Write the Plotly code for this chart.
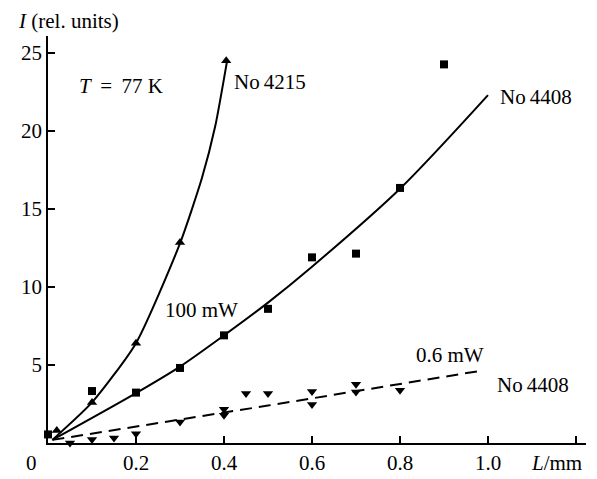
import plotly.graph_objects as go

# --- data ---
# No 4215 (100 mW), triangles
tri_x = [0.02, 0.1, 0.2, 0.3, 0.405]
tri_y = [0.8, 2.6, 6.4, 12.85, 24.5]
# fitted curve for No 4215
c4215_x = [0.01, 0.1, 0.2, 0.3, 0.35, 0.38, 0.407]
c4215_y = [0.2, 2.6, 6.4, 12.8, 17.0, 20.3, 24.5]

# No 4408 (100 mW), squares
sq_x = [0.0, 0.1, 0.2, 0.3, 0.4, 0.5, 0.6, 0.7, 0.8, 0.9]
sq_y = [0.55, 3.33, 3.23, 4.81, 6.9, 8.6, 11.9, 12.14, 16.35, 24.27]
# fitted curve for No 4408
c4408_x = [0.01, 0.2, 0.3, 0.4, 0.5, 0.6, 0.8, 1.0]
c4408_y = [0.2, 3.2, 4.9, 6.9, 9.0, 11.3, 16.3, 22.3]

# No 4408 (0.6 mW), inverted triangles
inv_x = [0.05, 0.1, 0.15, 0.2, 0.3, 0.4, 0.4, 0.45, 0.5, 0.6, 0.6, 0.7, 0.7, 0.8]
inv_y = [0.0, 0.22, 0.32, 0.6, 1.35, 2.16, 1.78, 3.17, 3.17, 3.3, 2.46, 3.76, 3.27, 3.38]
# dashed fit line
dash_x = [0.01, 0.5, 0.99]
dash_y = [0.2, 2.4, 4.66]

x_tickvals = [0, 0.2, 0.4, 0.6, 0.8, 1.0, 1.2]
x_ticktext = ["", "0.2", "0.4", "0.6", "0.8", "1.0", ""]
y_tickvals = [5, 10, 15, 20, 25]
y_ticktext = ["5", "10", "15", "20", "25"]

FONT = "Liberation Serif"
FS = 21

OFF = 8  # page body margin offset
L, R, T, B = 48 - OFF, 11, 36 - OFF, 36
W, H = 597 - OFF, 479 - OFF
PW, PH = W - L - R, H - T - B

fig = go.Figure()

fig.add_trace(go.Scatter(x=c4215_x, y=c4215_y, mode="lines",
                         line=dict(color="black", width=2, shape="spline", smoothing=0.6),
                         hoverinfo="skip"))
fig.add_trace(go.Scatter(x=c4408_x, y=c4408_y, mode="lines",
                         line=dict(color="black", width=2, shape="spline", smoothing=0.8),
                         hoverinfo="skip"))
fig.add_trace(go.Scatter(x=dash_x, y=dash_y, mode="lines",
                         line=dict(color="black", width=2, dash="12px,7px"),
                         hoverinfo="skip"))
fig.add_trace(go.Scatter(x=tri_x, y=tri_y, mode="markers",
                         marker=dict(symbol="triangle-up", size=9, color="black"),
                         cliponaxis=False))
fig.add_trace(go.Scatter(x=sq_x, y=sq_y, mode="markers",
                         marker=dict(symbol="square", size=8, color="black"),
                         cliponaxis=False))
fig.add_trace(go.Scatter(x=inv_x, y=inv_y, mode="markers",
                         marker=dict(symbol="triangle-down", size=9, color="black"),
                         cliponaxis=False))


def px_x(p):
    return (p - OFF - L) / PW


def px_y(p):
    return (H - B - (p - OFF)) / PH


ann = [
    dict(text="<i>I</i> (rel. units)", x=px_x(16.7), y=px_y(OFF), xanchor="left",
         yanchor="top", borderpad=0),
    dict(text="<i>T</i>\u2009 = \u200977 K", x=px_x(77), y=px_y(86), xanchor="left"),
    dict(text="No\u20094215", x=px_x(232), y=px_y(82), xanchor="left"),
    dict(text="No\u20094408", x=px_x(497.7), y=px_y(96.7), xanchor="left"),
    dict(text="100 mW", x=px_x(163), y=px_y(310), xanchor="left"),
    dict(text="0.6 mW", x=px_x(414), y=px_y(355), xanchor="left"),
    dict(text="No\u20094408", x=px_x(495), y=px_y(385), xanchor="left"),
    dict(text="<i>L</i>/mm", x=px_x(529), y=px_y(462.7), xanchor="left"),
    dict(text="0", x=px_x(31.7), y=px_y(462.7), xanchor="center"),
]
for a in ann:
    a.setdefault("yanchor", "middle")
    a.update(showarrow=False, xref="paper", yref="paper",
             font=dict(family=FONT, size=FS, color="black"))

fig.update_layout(
    template="none",
    width=W, height=H,
    margin=dict(l=L, r=R, t=T, b=B, pad=0),
    paper_bgcolor="white", plot_bgcolor="white",
    showlegend=False,
    font=dict(family=FONT, size=FS, color="black"),
    annotations=ann,
    xaxis=dict(range=[0, PW / 440], showgrid=False, zeroline=False, automargin=False,
               showline=True, linecolor="black", linewidth=1.5,
               ticks="inside", ticklen=7, tickwidth=1.5, tickcolor="black",
               tickvals=x_tickvals, ticktext=x_ticktext,
               tickfont=dict(family=FONT, size=FS, color="black")),
    yaxis=dict(range=[0, PH / 15.6], showgrid=False, zeroline=False, automargin=False,
               showline=True, linecolor="black", linewidth=1.5,
               ticks="inside", ticklen=7, tickwidth=1.5, tickcolor="black",
               tickvals=y_tickvals, ticktext=y_ticktext,
               tickfont=dict(family=FONT, size=FS, color="black")),
)

fig.write_html("out.html")
